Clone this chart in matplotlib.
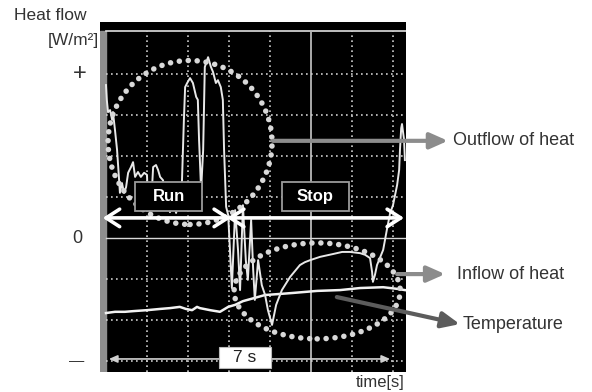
import matplotlib
matplotlib.use('Agg')
import matplotlib.pyplot as plt
from matplotlib.patches import Rectangle, Ellipse

plt.rcParams['font.family'] = ['Liberation Sans', 'DejaVu Sans']

# Heat flow trace (x: time in s, y: heat flow in grid divisions)
heat_t = [0.00, 0.02, 0.05, 0.10, 0.15, 0.17, 0.22, 0.27, 0.32, 0.34, 0.39, 0.44,
          0.49, 0.54, 0.61, 0.66, 0.71, 0.78, 0.85, 0.93, 1.00, 1.02, 1.07, 1.12,
          1.15, 1.22, 1.27, 1.32, 1.39, 1.46, 1.56, 1.63, 1.71, 1.78, 1.85, 1.90,
          1.93, 1.98, 2.05, 2.12, 2.20, 2.24, 2.27, 2.32, 2.37, 2.41, 2.49, 2.56,
          2.61, 2.68, 2.73, 2.80, 2.85, 2.88, 2.93, 2.98, 3.02, 3.07, 3.15, 3.22,
          3.27, 3.34, 3.41, 3.46, 3.54, 3.59, 3.63, 3.71, 3.80, 3.88, 3.95, 4.05,
          4.15, 4.29, 4.49, 4.73, 4.85, 4.98, 5.22, 5.54, 5.76, 5.95, 6.20, 6.32,
          6.44, 6.49, 6.51, 6.56, 6.61, 6.76, 6.85, 6.93, 7.00, 7.10, 7.15, 7.17,
          7.20, 7.22, 7.27, 7.29]
heat_q = [3.73, 3.37, 3.07, 3.12, 2.88, 3.07, 2.63, 2.15, 1.41, 1.10, 1.34, 1.10,
          1.24, 1.59, 1.73, 1.85, 1.49, 1.61, 1.49, 1.59, 1.54, 0.93, 0.63, 1.17,
          1.73, 1.78, 1.66, 1.49, 1.41, 1.05, 0.63, 0.93, 0.61, 0.93, 1.29, 2.88,
          3.68, 3.78, 3.90, 3.78, 3.44, 3.37, 2.39, 1.17, 2.15, 4.17, 4.41, 4.17,
          4.05, 3.78, 3.85, 3.68, 3.37, 2.15, 0.76, 0.56, -0.22, -1.22, 0.68, -0.29,
          -1.27, 0.80, -0.54, -1.02, 0.44, -0.78, -1.51, -0.54, -1.15, -1.39, -1.76, -2.12,
          -1.63, -1.27, -0.95, -0.66, -0.59, -0.54, -0.46, -0.39, -0.34, -0.34, -0.37, -0.41,
          -0.49, -0.83, -1.07, -0.90, -0.66, -0.29, 0.20, 0.61, 0.80, 1.29, 1.66, 2.15,
          2.68, 2.78, 2.39, 1.90]

# Temperature trace
temp_t = [0.00, 0.22, 0.46, 0.71, 1.00, 1.32, 1.56, 1.80, 1.95, 2.10, 2.22, 2.29,
          2.54, 2.78, 2.98, 3.15, 3.34, 3.63, 3.88, 4.17, 4.56, 5.15, 5.71, 6.20,
          6.76, 7.10, 7.29]
temp_v = [-1.83, -1.80, -1.80, -1.78, -1.76, -1.73, -1.71, -1.68, -1.73, -1.76, -1.68, -1.71,
          -1.76, -1.80, -1.68, -1.63, -1.54, -1.46, -1.39, -1.37, -1.34, -1.29, -1.27, -1.22,
          -1.20, -1.24, -1.27]

run_end = 3.0
trace_end = 7.3
window = 7  # seconds marked at the bottom

W, H = 592, 392
fig = plt.figure(figsize=(W / 100, H / 100), dpi=100)
ax = fig.add_axes([100 / W, 20 / H, 306 / W, 350 / H])
ax.set_facecolor('black')
ax.set_xlim(-0.146, 7.317)
ax.set_ylim(-3.268, 5.268)
for s in ax.spines.values():
    s.set_visible(False)
ax.set_xticks([])
ax.set_yticks([])

# scope frame: gray strip on the left, white line on top
top = 5.05
ax.axvspan(-0.146, 0, ymax=(top + 3.268) / 8.536, color='#8e8e8e', zorder=1)
ax.axhline(top, xmin=0.02, color='#e0e0e0', lw=1.2, zorder=2)

# graticule
for gx in [1, 2, 3, 4, 6, 7]:
    ax.plot([gx, gx], [-3.268, top], color='#cccccc', lw=1.2, ls=(0, (1, 2)), zorder=2)
ax.plot([5, 5], [-3.268, top], color='#b8b8b8', lw=1.3, zorder=2)
for gy in [4, 3, 2, 1, -1, -2, -3]:
    ax.plot([0, 7.317], [gy, gy], color='#cccccc', lw=1.2, ls=(0, (1, 2)), zorder=2)
ax.plot([0, 7.317], [0, 0], color='#d8d8d8', lw=1.0, zorder=2)

# traces
ax.plot(temp_t, temp_v, color='#f2f2f2', lw=1.8, zorder=4)
ax.plot(heat_t, heat_q, color='#e8e8e8', lw=1.4, zorder=4)

# dotted ellipses marking outflow / inflow
for cx, cy, w, h in [(2.05, 2.33, 4.0, 4.0), (5.15, -1.29, 4.05, 2.34)]:
    e = Ellipse((cx, cy), w, h, fill=False, edgecolor='#d8d8d8', lw=4.0,
                ls=(0, (0.01, 1.6)), capstyle='round', zorder=5)
    ax.add_patch(e)

# Run / Stop boxes
for bx, label in [(0.71, 'Run'), (4.29, 'Stop')]:
    ax.add_patch(Rectangle((bx, 0.66), 1.64, 0.71, facecolor='black',
                           edgecolor='#9a9a9a', lw=1.3, zorder=6))
    ax.text(bx + 0.82, 1.01, label, color='white', fontsize=12, fontweight='bold',
            ha='center', va='center', zorder=7)

# Run / Stop double arrows
arr = dict(arrowstyle='<->,head_length=0.7,head_width=0.45', color='white',
           lw=2.6, shrinkA=0, shrinkB=0, mutation_scale=14)
ax.annotate('', xy=(run_end + 0.05, 0.49), xytext=(-0.08, 0.49), arrowprops=arr, zorder=8)
ax.annotate('', xy=(trace_end - 0.03, 0.49), xytext=(run_end - 0.05, 0.49), arrowprops=arr, zorder=8)

# 7 s span
ax.annotate('', xy=(window - 0.07, -2.95), xytext=(0.07, -2.95),
            arrowprops=dict(arrowstyle='<|-|>,head_length=0.5,head_width=0.22',
                            color='#d0d0d0', lw=1.2, shrinkA=0, shrinkB=0,
                            mutation_scale=10), zorder=6)
ax.add_patch(Rectangle((2.76, -3.17), 1.27, 0.51, facecolor='white',
                       edgecolor='#bbbbbb', lw=0.8, zorder=7))
ax.text(3.39, -2.92, '7 s', color='#222222', fontsize=12.5, ha='center',
        va='center', zorder=8)

# callouts
def callout(x0, y0, x1, y1, color, label, tx, ty):
    ax.annotate('', xy=(x1, y1), xytext=(x0, y0), annotation_clip=False,
                arrowprops=dict(arrowstyle='-|>,head_length=0.9,head_width=0.4',
                                color=color, lw=3, shrinkA=0, shrinkB=0,
                                mutation_scale=12), zorder=9)
    ax.text(tx, ty, label, color='#333333', fontsize=13, ha='left', va='center',
            clip_on=False)

callout(4.07, 2.37, 8.34, 2.37, '#8c8c8c', 'Outflow of heat', 8.46, 2.37)
callout(7.10, -0.88, 8.27, -0.88, '#8c8c8c', 'Inflow of heat', 8.56, -0.88)
callout(5.63, -1.44, 8.63, -2.10, '#5c5c5c', 'Temperature', 8.71, -2.12)

# axis labels
yt = ax.get_yaxis_transform()
ax.text(-0.065, 4, '+', transform=yt, fontsize=17, ha='center', va='center', color='#333333')
ax.text(-0.075, 0, '0', transform=yt, fontsize=13, ha='center', va='center', color='#333333')
ax.text(-0.078, -3, '\u2014', transform=yt, fontsize=11, ha='center', va='center', color='#333333')

fig.text(14 / W, 1 - 15 / H, 'Heat flow', fontsize=12.5, ha='left', va='center', color='#333333')
fig.text(99 / W, 1 - 40 / H, '[W/m\u00b2]', fontsize=12.5, ha='right', va='center', color='#333333')
fig.text(405 / W, 1 - 382 / H, 'time[s]', fontsize=12, ha='right', va='center', color='#333333')

fig.savefig('out.png', dpi=100)
